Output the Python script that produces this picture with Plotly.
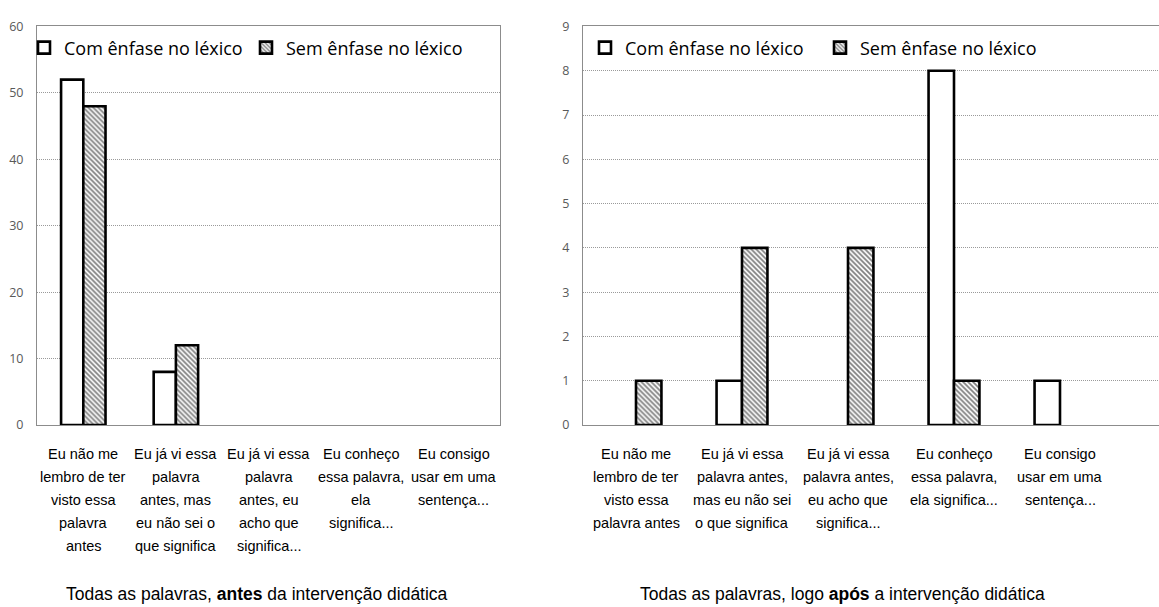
import plotly.graph_objects as go

# ---- data ----
series_names = ["Com ênfase no léxico", "Sem ênfase no léxico"]

left_labels = [
    ["Eu não me", "lembro de ter", "visto essa", "palavra", "antes"],
    ["Eu já vi essa", "palavra", "antes, mas", "eu não sei o", "que significa"],
    ["Eu já vi essa", "palavra", "antes, eu", "acho que", "significa..."],
    ["Eu conheço", "essa palavra,", "ela", "significa..."],
    ["Eu consigo", "usar em uma", "sentença..."],
]
right_labels = [
    ["Eu não me", "lembro de ter", "visto essa", "palavra antes"],
    ["Eu já vi essa", "palavra antes,", "mas eu não sei", "o que significa"],
    ["Eu já vi essa", "palavra antes,", "eu acho que", "significa..."],
    ["Eu conheço", "essa palavra,", "ela significa..."],
    ["Eu consigo", "usar em uma", "sentença..."],
]

before_com = [52, 8, 0, 0, 0]
before_sem = [48, 12, 0, 0, 0]
after_com = [0, 1, 0, 8, 1]
after_sem = [1, 4, 4, 1, 0]

left_title = "Todas as palavras, <b>antes</b> da intervenção didática"
right_title = "Todas as palavras, logo <b>após</b> a intervenção didática"

# ---- layout constants ----
W, H = 1159, 607
y_top_px, y_bot_px = 18, 428
left_x_px = (37, 500)
right_x_px = (583, 1159)

def px_x(p):
    return p / W

def px_y(p):
    return 1 - p / H

def nz(vals):
    return [v if v else None for v in vals]

fig = go.Figure()

hatch = dict(shape="\\", fgcolor="black", bgcolor="white", size=3.5, solidity=0.5)

def add_pair(com, sem, xa, ya, legend):
    xs = list(range(len(com)))
    fig.add_trace(go.Bar(
        x=xs, y=nz(com), name=series_names[0], xaxis=xa, yaxis=ya, legend=legend,
        marker=dict(color="white", line=dict(color="black", width=2.6)),
    ))
    fig.add_trace(go.Bar(
        x=xs, y=nz(sem), name=series_names[1], xaxis=xa, yaxis=ya, legend=legend,
        marker=dict(color="white", pattern=hatch, line=dict(color="black", width=2.6)),
    ))

add_pair(before_com, before_sem, "x", "y", "legend")
add_pair(after_com, after_sem, "x2", "y2", "legend2")

frame_col = "#8c8c8c"
tick_font = dict(family="Open Sans", size=12.5, color="#595959")

def yaxis_cfg(rng, dtick, anchor, mirror):
    return dict(
        range=rng, dtick=dtick, domain=[px_y(y_bot_px), px_y(y_top_px)], anchor=anchor,
        showline=True, linecolor=frame_col, linewidth=1, mirror=mirror,
        showgrid=True, gridcolor="#9a9a9a", gridwidth=1, griddash="1px,1px",
        zeroline=False, ticks="", tickfont=tick_font, ticklabelstandoff=10,
        fixedrange=True,
    )

def xaxis_cfg(dom, rng, anchor):
    return dict(
        domain=dom, range=rng, anchor=anchor, showticklabels=False, ticks="",
        showline=True, linecolor=frame_col, linewidth=1, mirror=True,
        showgrid=False, zeroline=False, fixedrange=True,
    )

right_range_hi = -0.5 + (right_x_px[1] - right_x_px[0]) / 106.0

legend_font = dict(family="Open Sans", size=18, color="black")

fig.update_layout(
    width=W, height=H,
    margin=dict(l=0, r=0, t=0, b=0),
    paper_bgcolor="white", plot_bgcolor="white",
    barmode="group", bargap=0.52, bargroupgap=0,
    xaxis=xaxis_cfg([px_x(left_x_px[0]), px_x(left_x_px[1])], [-0.5, 4.5], "y"),
    yaxis=yaxis_cfg([0, 60], 10, "x", True),
    xaxis2=xaxis_cfg([px_x(right_x_px[0]), 1.0], [-0.5, right_range_hi], "y2"),
    yaxis2=yaxis_cfg([0, 9], 1, "x2", False),
    legend=dict(
        orientation="h", x=px_x(24), y=px_y(40), xanchor="left", yanchor="middle",
        font=legend_font,
        bgcolor="rgba(0,0,0,0)", entrywidth=177, entrywidthmode="pixels",
        itemclick=False, itemdoubleclick=False,
    ),
    legend2=dict(
        orientation="h", x=px_x(585), y=px_y(40), xanchor="left", yanchor="middle",
        font=legend_font,
        bgcolor="rgba(0,0,0,0)", entrywidth=190, entrywidthmode="pixels",
        itemclick=False, itemdoubleclick=False,
    ),
    showlegend=True,
)

label_font = dict(family="Liberation Sans", size=14.5, color="black")
annotations = []
for xref, labels in (("x", left_labels), ("x2", right_labels)):
    for i, lines in enumerate(labels):
        for j, line in enumerate(lines):
            annotations.append(dict(
                x=i, xref=xref, y=px_y(y_bot_px), yref="paper",
                text=line, showarrow=False, xanchor="center", yanchor="middle",
                yshift=-(29 + 23 * j), font=label_font,
            ))

title_font = dict(family="Liberation Sans", size=17.5, color="black")
annotations.append(dict(
    x=px_x(257), xref="paper", y=px_y(602), yref="paper", text=left_title,
    showarrow=False, xanchor="center", yanchor="middle", font=title_font,
))
annotations.append(dict(
    x=px_x(842), xref="paper", y=px_y(602), yref="paper", text=right_title,
    showarrow=False, xanchor="center", yanchor="middle", font=title_font,
))
fig.update_layout(annotations=annotations)

fig.write_html("out.html")
